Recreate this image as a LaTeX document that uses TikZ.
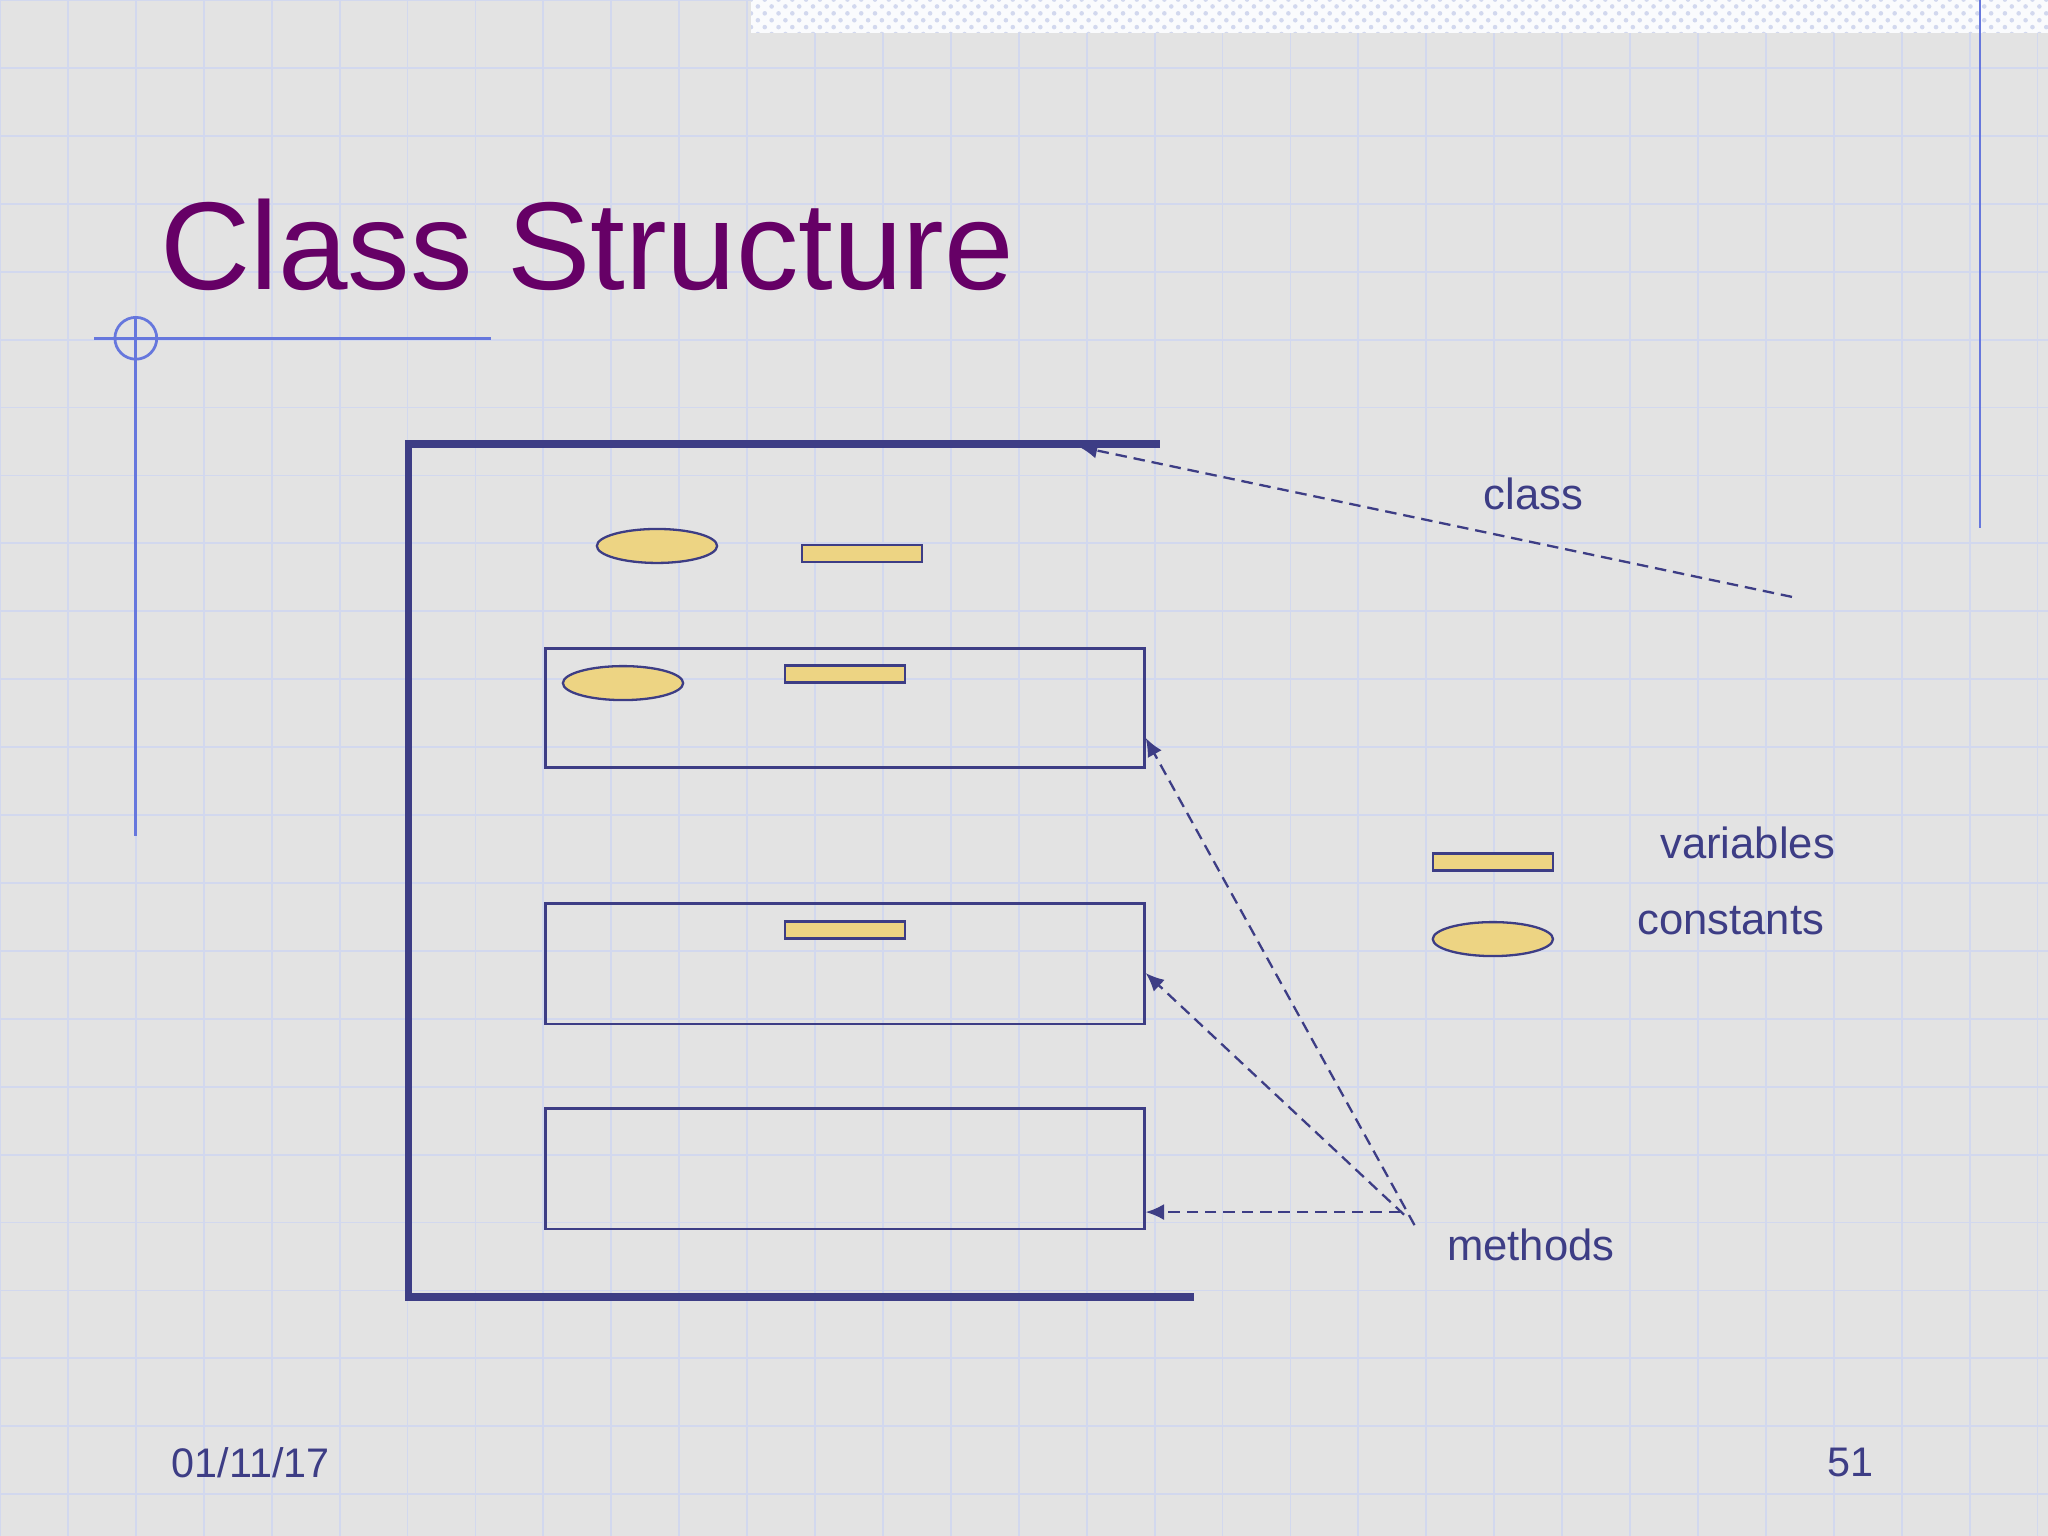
\documentclass[tikz,border=0pt]{standalone}
\usepackage{fontspec}
\setmainfont{Liberation Sans}
\usetikzlibrary{arrows.meta,patterns,shapes.geometric}
\definecolor{bg}{HTML}{E3E3E3}
\definecolor{gridc}{HTML}{D2D8EE}
\definecolor{navy}{HTML}{3D3D85}
\definecolor{deco}{HTML}{6677DD}
\definecolor{ttl}{HTML}{660066}
\definecolor{fillY}{HTML}{EDD483}
\tikzset{x=0.01cm,y=-0.01cm,
 box/.style={draw=navy,line width=0.6pt,inner sep=0},
 var/.style={draw=navy,fill=fillY,line width=0.5pt,inner sep=0},
 ell/.style={var,ellipse,minimum width=0.92cm,minimum height=0.26cm},
 bar/.style={var,rectangle,minimum width=0.92cm,minimum height=0.13cm},
 lbl/.style={text=navy,font=\fontsize{9.5pt}{11pt}\selectfont,inner sep=0},
 dsh/.style={draw=navy,dash pattern=on 2.5pt off 1.5pt,line width=0.5pt,-{Latex[length=4pt,width=3.5pt]}}}
\begin{document}
\begin{tikzpicture}
\useasboundingbox (0,0) rectangle (1568,1176);
\fill[bg] (0,0) rectangle (1568,1176);
\foreach \x in {0,52,...,1568} \draw[gridc,line width=0.4pt] (\x,0) -- (\x,1176);
\foreach \y in {0,52,...,1176} \draw[gridc,line width=0.4pt] (0,\y) -- (1568,\y);
\fill[white!90!gridc] (575,0) rectangle (1568,25);
\fill[pattern=crosshatch dots,pattern color=gridc] (575,0) rectangle (1568,25);
% decorations
\draw[deco,line width=0.6pt] (72,259) -- (376,259);
\draw[deco,line width=0.6pt] (104,243) -- (104,640);
\draw[deco,line width=0.6pt] (104,259) circle[radius=0.16cm];
\draw[deco,line width=0.6pt] (1516,0) -- (1516,404);
\node[anchor=base west,text=ttl,font=\fontsize{27.2pt}{32pt}\selectfont,inner sep=0] (title) at (122,222) {Class Structure};
% class bracket
\draw[navy,line width=1.6pt] (888,340) -- (313,340) -- (313,993) -- (914,993);
\coordinate (classtop) at (826,342);
\node[ell] (c1) at (503,418) {};
\node[bar] (v1) at (660,424) {};
\node[box,minimum width=4.58cm,minimum height=0.91cm] (b1) at (647,542) {};
\node[ell] (c2) at (477,523) {};
\node[bar] (v2) at (647,516) {};
\node[box,minimum width=4.58cm,minimum height=0.92cm] (b2) at (647,738) {};
\node[bar] (v3) at (647,712) {};
\node[box,minimum width=4.58cm,minimum height=0.92cm] (b3) at (647,895) {};
% legend
\node[bar] (lv) at (1143,660) {};
\node[ell] (lc) at (1143,719) {};
\node[lbl] (tclass) at (1174,378) {class};
\node[lbl] (tvar) at (1338,645) {variables};
\node[lbl] (tcon) at (1325,705) {constants};
\node[lbl] (tmeth) at (1172,953) {methods};
% dashed connectors
\coordinate (cs) at (1372,457);
\coordinate (m1) at (1083,938);
\coordinate (m2) at (1075,930);
\coordinate (m3) at (1072,928);
\draw[dsh] (cs) -- (classtop);
\draw[dsh] (m1) -- (b1.east |- 0,565);
\draw[dsh] (m2) -- (b2.east |- 0,745);
\draw[dsh] (m3) -- (b3.east |- 0,928);
\node[lbl,font=\fontsize{9pt}{11pt}\selectfont] (date) at (192,1120) {01/11/17};
\node[lbl,font=\fontsize{9pt}{11pt}\selectfont] (pg) at (1417,1120) {51};
\end{tikzpicture}
\end{document}
